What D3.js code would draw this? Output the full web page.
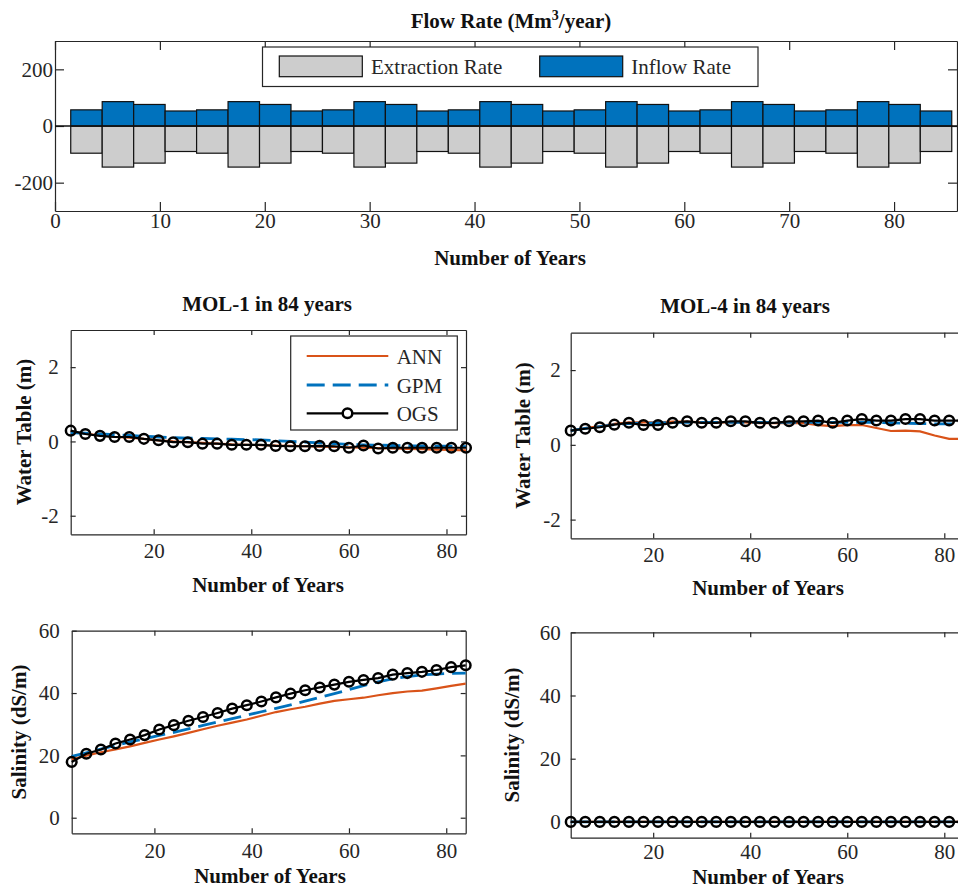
<!DOCTYPE html>
<html><head><meta charset="utf-8">
<script src="https://cdn.jsdelivr.net/npm/d3@7"></script>
<style>body{margin:0;background:#fff} svg{display:block;background:#fff}</style>
</head><body><svg id="c" width="958" height="888"></svg>
<script>
// ---------------- DATA ----------------
const years = [3,6,9,12,15,18,21,24,27,30,33,36,39,42,45,48,51,54,57,60,63,66,69,72,75,78,81,84];
const inflowRate = [57,86,76,53, 57,86,76,53, 57,86,76,53, 57,86,76,53, 57,86,76,53, 57,86,76,53, 57,86,76,53];
const extractionRate = [-96,-145,-131,-90, -96,-145,-131,-90, -96,-145,-131,-90, -96,-145,-131,-90, -96,-145,-131,-90, -96,-145,-131,-90, -96,-145,-131,-90];
const flowTicksX = [0,10,20,30,40,50,60,70,80];
const flowTicksY = [-200,0,200];
const panelTicksX = [20,40,60,80];
const wtTicksY = [-2,0,2];
const salTicksY = [0,20,40,60];
const seriesNames = ["ANN","GPM","OGS"];
const flowNames = ["Extraction Rate","Inflow Rate"];

const mol1WT_ANN = [0.28,0.21,0.16,0.12,0.10,0.07,0.03,0.00,-0.02,-0.04,-0.06,-0.08,-0.09,-0.10,-0.11,-0.12,-0.13,-0.14,-0.15,-0.16,-0.17,-0.18,-0.19,-0.20,-0.21,-0.22,-0.23,-0.24];
const mol1WT_GPM = [0.24,0.22,0.20,0.18,0.16,0.14,0.12,0.10,0.09,0.08,0.07,0.06,0.05,0.04,0.02,0.00,-0.02,-0.04,-0.06,-0.08,-0.09,-0.10,-0.11,-0.12,-0.12,-0.13,-0.13,-0.14];
const mol1WT_OGS = [0.29,0.20,0.15,0.12,0.12,0.07,0.03,-0.02,-0.02,-0.06,-0.06,-0.09,-0.09,-0.09,-0.12,-0.13,-0.13,-0.12,-0.13,-0.17,-0.11,-0.19,-0.17,-0.17,-0.17,-0.17,-0.17,-0.17];

const mol4WT_ANN = [0.38,0.45,0.50,0.56,0.60,0.60,0.60,0.62,0.62,0.60,0.60,0.60,0.60,0.58,0.58,0.58,0.58,0.53,0.50,0.53,0.53,0.45,0.37,0.38,0.36,0.25,0.16,0.16];
const mol4WT_GPM = [0.38,0.44,0.49,0.54,0.57,0.58,0.59,0.60,0.60,0.60,0.60,0.60,0.60,0.60,0.60,0.60,0.60,0.60,0.60,0.60,0.60,0.60,0.59,0.58,0.57,0.56,0.56,0.55];
const mol4WT_OGS = [0.38,0.43,0.47,0.54,0.59,0.53,0.53,0.59,0.63,0.59,0.59,0.63,0.63,0.59,0.59,0.63,0.63,0.65,0.59,0.65,0.69,0.65,0.65,0.69,0.69,0.65,0.65,0.65];

const mol1Sal_ANN = [18.7,19.9,21.0,21.9,22.9,24.0,25.1,26.1,27.2,28.4,29.5,30.5,31.5,32.7,33.9,34.8,35.6,36.6,37.5,38.0,38.5,39.3,40.0,40.5,40.8,41.5,42.3,43.0];
const mol1Sal_GPM = [19.7,20.8,22.0,23.2,24.3,25.3,26.4,27.4,28.5,29.6,30.7,31.8,32.9,34.0,35.1,36.2,37.4,38.6,39.8,41.1,42.4,43.6,44.6,45.3,45.8,46.1,46.3,46.4];
const mol1Sal_OGS = [17.9,20.5,21.9,23.8,25.1,26.5,28.3,29.7,31.1,32.3,33.6,35.0,36.1,37.3,38.6,39.8,40.9,41.8,42.7,43.6,44.2,44.8,45.9,46.4,46.8,47.4,48.3,48.9];

const mol4Sal_ANN = [0,0,0,0,0,0,0,0,0,0,0,0,0,0,0,0,0,0,0,0,0,0,0,0,0,0,0,0];
const mol4Sal_GPM = [0,0,0,0,0,0,0,0,0,0,0,0,0,0,0,0,0,0,0,0,0,0,0,0,0,0,0,0];
const mol4Sal_OGS = [0,0,0,0,0,0,0,0,0,0,0,0,0,0,0,0,0,0,0,0,0,0,0,0,0,0,0,0];

// ---------------- STYLE ----------------
const FONT = '"Liberation Serif","Times New Roman",Times,serif';
const AX = "#262626";
const C_ANN = "#D95319", C_GPM = "#0072BD", C_OGS = "#000000";
const C_INFLOW = "#0072BD", C_EXTR = "#CDCDCD";
const svg = d3.select("#c");

function styleAxis(sel) {
  sel.attr("font-family", FONT).attr("font-size", 21);
  sel.selectAll(".domain").attr("stroke", AX).attr("stroke-width", 1.2);
  sel.selectAll(".tick line").attr("stroke", AX).attr("stroke-width", 1.2);
  sel.selectAll(".tick text").attr("fill", "#262626");
}

function frame(cfg) {
  const x = d3.scaleLinear().domain(cfg.xDomain).range([cfg.left, cfg.right]);
  const y = d3.scaleLinear().domain(cfg.yDomain).range([cfg.bottom, cfg.top]);
  const g = svg.append("g");
  const fmt = d => String(d);
  g.append("g").attr("transform", `translate(0,${cfg.top})`)
    .call(d3.axisTop(x).tickValues(cfg.xTicks).tickSizeInner(-cfg.tick).tickSizeOuter(0).tickFormat(""))
    .call(styleAxis);
  g.append("g").attr("transform", `translate(${cfg.right},0)`)
    .call(d3.axisRight(y).tickValues(cfg.yTicks).tickSizeInner(-cfg.tick).tickSizeOuter(0).tickFormat(""))
    .call(styleAxis);
  g.append("g").attr("transform", `translate(0,${cfg.bottom})`)
    .call(d3.axisBottom(x).tickValues(cfg.xTicks).tickSizeInner(-cfg.tick).tickSizeOuter(0).tickPadding(cfg.xPad).tickFormat(fmt))
    .call(styleAxis);
  g.append("g").attr("transform", `translate(${cfg.left},0)`)
    .call(d3.axisLeft(y).tickValues(cfg.yTicks).tickSizeInner(-cfg.tick).tickSizeOuter(0).tickPadding(cfg.yPad).tickFormat(fmt))
    .call(styleAxis);
  const label = (txt, px, py, rot) => {
    const t = svg.append("text").attr("font-family", FONT).attr("font-size", 21)
      .attr("font-weight", "bold").attr("fill", "#111").attr("text-anchor", "middle")
      .attr("transform", `translate(${px},${py})` + (rot ? " rotate(-90)" : "")).text(txt);
    return t;
  };
  if (cfg.title) label(cfg.title[0], cfg.title[1], cfg.title[2]);
  if (cfg.xlabel) label(cfg.xlabel[0], cfg.xlabel[1], cfg.xlabel[2]);
  if (cfg.ylabel) label(cfg.ylabel[0], cfg.ylabel[1], cfg.ylabel[2], true);
  return {x, y, g};
}

// ---------------- TOP BAR CHART ----------------
(function() {
  const f = frame({left:55, right:957, top:41, bottom:211, xDomain:[0,86], yDomain:[-300,300],
    xTicks:flowTicksX, yTicks:flowTicksY, tick:9, xPad:2, yPad:2,
    title:null, xlabel:["Number of Years",510,265]});
  const {x, y} = f;
  const half = 1.5;
  const bars = svg.append("g");
  bars.selectAll("rect.ext").data(years).join("rect")
    .attr("x", (d) => x(d - half)).attr("width", d => x(d + half) - x(d - half))
    .attr("y", y(0)).attr("height", (d,i) => y(extractionRate[i]) - y(0))
    .attr("fill", C_EXTR).attr("stroke", "#111").attr("stroke-width", 1.2);
  bars.selectAll("rect.inf").data(years).join("rect")
    .attr("x", (d) => x(d - half)).attr("width", d => x(d + half) - x(d - half))
    .attr("y", (d,i) => y(inflowRate[i])).attr("height", (d,i) => y(0) - y(inflowRate[i]))
    .attr("fill", C_INFLOW).attr("stroke", "#111").attr("stroke-width", 1.2);
  bars.append("line").attr("x1", x(0)).attr("x2", x(86)).attr("y1", y(0)).attr("y2", y(0))
    .attr("stroke", "#111").attr("stroke-width", 1.4);
  // title with superscript
  const t = svg.append("text").attr("font-family", FONT).attr("font-size", 21).attr("font-weight","bold")
    .attr("fill","#111").attr("text-anchor","middle").attr("x", 511).attr("y", 28);
  t.append("tspan").text("Flow Rate (Mm");
  t.append("tspan").attr("font-size", 14).attr("dy", -8).text("3");
  t.append("tspan").attr("dy", 8).text("/year)");
  // legend
  const lg = svg.append("g");
  lg.append("rect").attr("x", 262.5).attr("y", 47).attr("width", 495.5).attr("height", 39.5)
    .attr("fill", "#fff").attr("stroke", AX).attr("stroke-width", 1.2);
  const items = [{name: flowNames[0], c: C_EXTR, px: 279.3, tx: 371}, {name: flowNames[1], c: C_INFLOW, px: 539.7, tx: 631.3}];
  items.forEach(it => {
    lg.append("rect").attr("x", it.px).attr("y", 56).attr("width", 83).attr("height", 20.7)
      .attr("fill", it.c).attr("stroke", "#111").attr("stroke-width", 1.2);
    lg.append("text").attr("x", it.tx).attr("y", 74).attr("font-family", FONT).attr("font-size", 21)
      .attr("fill", "#262626").text(it.name);
  });
})();

// ---------------- LINE PANELS ----------------
function drawSeries(f, ann, gpm, ogs) {
  const line = d3.line().x((d,i) => f.x(years[i])).y(d => f.y(d));
  svg.append("path").datum(ann).attr("d", line).attr("fill","none").attr("stroke", C_ANN).attr("stroke-width", 2.2);
  svg.append("path").datum(gpm).attr("d", line).attr("fill","none").attr("stroke", C_GPM).attr("stroke-width", 2.8)
    .attr("stroke-dasharray", "18,8");
  svg.append("path").datum(ogs).attr("d", line).attr("fill","none").attr("stroke", C_OGS).attr("stroke-width", 2.2);
  svg.append("g").selectAll("circle").data(ogs).join("circle")
    .attr("cx", (d,i) => f.x(years[i])).attr("cy", d => f.y(d)).attr("r", 4.8)
    .attr("fill", "none").attr("stroke", C_OGS).attr("stroke-width", 2.5);
}

const p1 = frame({left:70.7, right:466, top:330, bottom:534.3, xDomain:[3,84], yDomain:[-2.5,3],
  xTicks:panelTicksX, yTicks:wtTicksY, tick:5, xPad:9, yPad:12,
  title:["MOL-1 in 84 years",267,311], xlabel:["Number of Years",268,592], ylabel:["Water Table (m)",31,432]});
drawSeries(p1, mol1WT_ANN, mol1WT_GPM, mol1WT_OGS);

const p2 = frame({left:570.7, right:963.7, top:332.7, bottom:538.3, xDomain:[3,84], yDomain:[-2.5,3],
  xTicks:panelTicksX, yTicks:wtTicksY, tick:5, xPad:8.5, yPad:10,
  title:["MOL-4 in 84 years",745,313], xlabel:["Number of Years",768,595], ylabel:["Water Table (m)",530,435.5]});
drawSeries(p2, mol4WT_ANN, mol4WT_GPM, mol4WT_OGS);

const p3 = frame({left:71.7, right:465.7, top:630.7, bottom:833.3, xDomain:[3,84], yDomain:[-5,60],
  xTicks:panelTicksX, yTicks:salTicksY, tick:5, xPad:9.5, yPad:12,
  title:null, xlabel:["Number of Years",270,883],  ylabel:["Salinity (dS/m)",26,732]});
drawSeries(p3, mol1Sal_ANN, mol1Sal_GPM, mol1Sal_OGS);

const p4 = frame({left:570.7, right:963.7, top:632.3, bottom:837.7, xDomain:[3,84], yDomain:[-5,60],
  xTicks:panelTicksX, yTicks:salTicksY, tick:5, xPad:6, yPad:10,
  title:null, xlabel:["Number of Years",768,883.5], ylabel:["Salinity (dS/m)",519,735]});
drawSeries(p4, mol4Sal_ANN, mol4Sal_GPM, mol4Sal_OGS);

// legend in MOL-1
(function() {
  const lg = svg.append("g");
  lg.append("rect").attr("x", 290.7).attr("y", 336).attr("width", 166.6).attr("height", 94)
    .attr("fill", "#fff").attr("stroke", AX).attr("stroke-width", 1.2);
  const rows = [
    {name: seriesNames[0], c: C_ANN, w: 2.2, dash: null, y: 356},
    {name: seriesNames[1], c: C_GPM, w: 2.8, dash: "18,8", y: 385},
    {name: seriesNames[2], c: C_OGS, w: 2.2, dash: null, y: 413.3, marker: true}];
  rows.forEach(r => {
    const l = lg.append("line").attr("x1", 306.7).attr("x2", 388.3).attr("y1", r.y).attr("y2", r.y)
      .attr("stroke", r.c).attr("stroke-width", r.w);
    if (r.dash) l.attr("stroke-dasharray", r.dash);
    if (r.marker) lg.append("circle").attr("cx", 347.5).attr("cy", r.y).attr("r", 4.8)
      .attr("fill", "#fff").attr("stroke", r.c).attr("stroke-width", 2.5);
    lg.append("text").attr("x", 396.7).attr("y", r.y + 7.5).attr("font-family", FONT).attr("font-size", 21)
      .attr("fill", "#262626").text(r.name);
  });
})();
</script>
</body></html>
